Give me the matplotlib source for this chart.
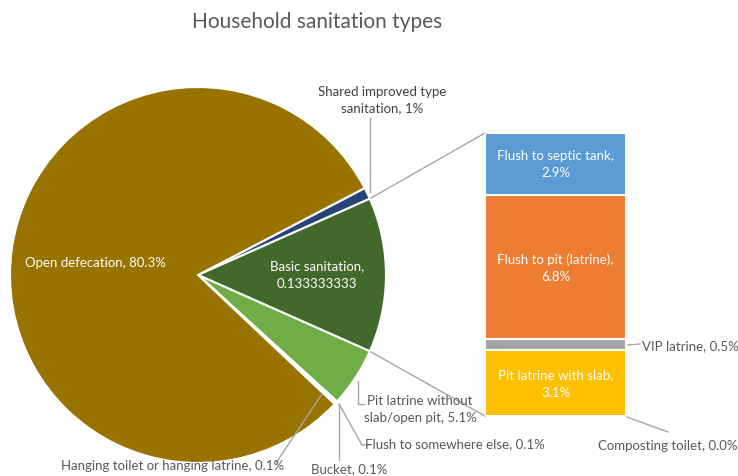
import matplotlib
matplotlib.use("Agg")
import matplotlib.pyplot as plt

plt.rcParams['font.family'] = ['Lato', 'DejaVu Sans']

# pie part
pie_labels = ["Shared improved type\nsanitation, 1%", "Basic sanitation,\n0.133333333",
              "Pit latrine without\nslab/open pit, 5.1%", "Flush to somewhere else, 0.1%",
              "Bucket, 0.1%", "Hanging toilet or hanging latrine, 0.1%", "Open defecation, 80.3%"]
pie_values = [1.0, 13.3, 5.1, 0.1, 0.1, 0.1, 80.3]
pie_colors = ["#264478", "#43682B", "#70AD47", "#4472C4", "#9E480E", "#636363", "#997300"]

# bar part (breakdown of basic sanitation), bottom to top
bar_labels = ["Composting toilet, 0.0%", "Pit latrine with slab,\n3.1%", "VIP latrine, 0.5%",
              "Flush to pit (latrine),\n6.8%", "Flush to septic tank,\n2.9%"]
bar_values = [0.0, 3.1, 0.5, 6.8, 2.9]
bar_colors = ["#5B9BD5", "#FFC000", "#A5A5A5", "#ED7D31", "#5B9BD5"]
bar_inside = [False, True, False, True, True]

W, H = 738, 477
GRAY = "#595959"
LINE = "#A6A6A6"


def Y(y):
    # pixel row -> data y
    return H - y


fig = plt.figure(figsize=(W / 100, H / 100), dpi=100)
ax = fig.add_axes([0, 0, 1, 1])

cx, cy, r = 198, 276, 188
wedges, _ = ax.pie(pie_values, colors=pie_colors, center=(cx, Y(cy)), radius=r,
                   startangle=23.94 + 3.6, counterclock=False,
                   wedgeprops=dict(edgecolor="white", linewidth=1.5))
ax.set_xlim(0, W)
ax.set_ylim(0, H)
ax.set_aspect("equal")
ax.axis("off")

# bar axes
bx0, bx1, by0, by1 = 485, 626, 134, 417
bax = fig.add_axes([bx0 / W, 1 - by1 / H, (bx1 - bx0) / W, (by1 - by0) / H])
bottom = 0
for v, c, lab, inside in zip(bar_values, bar_colors, bar_labels, bar_inside):
    bax.bar(0, v, width=1, bottom=bottom, color=c, edgecolor="white", linewidth=1.5)
    if inside:
        bax.text(0, bottom + v / 2, lab, color="white", fontsize=9.5, ha="center",
                 va="center", linespacing=1.5)
    bottom += v
bax.set_xlim(-0.5, 0.5)
bax.set_ylim(0, sum(bar_values))
bax.axis("off")

# connector lines between pie and bar
ax.plot([371, bx0], [Y(199), Y(by0)], color=LINE, lw=1)
ax.plot([371, bx0], [Y(353), Y(by1)], color=LINE, lw=1)

fs = 9.5
# labels inside pie
ax.text(95, Y(263), pie_labels[6], color="white", fontsize=fs, ha="center", va="center")
ax.text(317, Y(275), pie_labels[1], color="white", fontsize=fs, ha="center", va="center",
        linespacing=1.5)

# outside pie labels
ax.text(382, Y(100), pie_labels[0], color="#404040", fontsize=fs, ha="center", va="center",
        linespacing=1.5)
ax.plot([370, 370], [Y(119), Y(193)], color=LINE, lw=1)

ax.text(420, Y(410), pie_labels[2], color=GRAY, fontsize=fs, ha="center", va="center",
        linespacing=1.5)
ax.plot([358, 358, 364], [Y(382), Y(405), Y(405)], color=LINE, lw=1)

ax.text(365, Y(444), pie_labels[3], color=GRAY, fontsize=fs, ha="left", va="center")
ax.plot([339, 362, 371], [Y(405), Y(446), Y(446)], color=LINE, lw=1)

ax.text(349, Y(469), pie_labels[4], color=GRAY, fontsize=fs, ha="center", va="center")
ax.plot([339, 339], [Y(405), Y(461)], color=LINE, lw=1)

ax.text(284, Y(466), pie_labels[5], color=GRAY, fontsize=fs, ha="right", va="center")
ax.plot([322, 276], [Y(395), Y(464)], color=LINE, lw=1)

ax.text(642, Y(346), bar_labels[2], color=GRAY, fontsize=fs, ha="left", va="center")
ax.plot([628, 640], [Y(346), Y(345)], color=LINE, lw=1)
ax.text(598, Y(446), bar_labels[0], color=GRAY, fontsize=fs, ha="left", va="center")
ax.plot([627, 668], [Y(418), Y(433)], color=LINE, lw=1)

ax.text(317, Y(22), "Household sanitation types", color=GRAY, fontsize=15,
        ha="center", va="center")

fig.savefig("out.png", dpi=100)
